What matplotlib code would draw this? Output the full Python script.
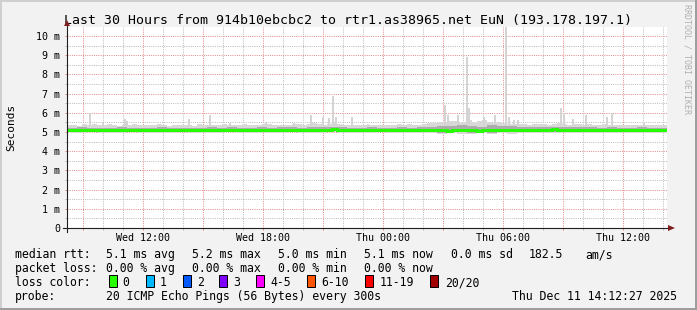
import numpy as np
import pandas as pd
import matplotlib
matplotlib.use('Agg')
import matplotlib.pyplot as plt
import matplotlib.dates as mdates
import matplotlib.ticker as mticker
from matplotlib.patches import Rectangle, Polygon
from matplotlib.lines import Line2D

# ---------------- data ----------------
title = "Last 30 Hours from 914b10ebcbc2 to rtr1.as38965.net EuN (193.178.197.1)"
start_time = "2025-12-10 08:12:27"   # graph start (30 h before the stamp below)
end_stamp = "Thu Dec 11 14:12:27 2025"

# median RTT (ms), one value per 15 minutes
median_ms = [
    5.10, 5.11, 5.10, 5.12, 5.11, 5.10, 5.11, 5.12, 5.10, 5.09, 5.11, 5.12,
    5.11, 5.10, 5.12, 5.11, 5.10, 5.11, 5.12, 5.11, 5.10, 5.09, 5.11, 5.10,
    5.11, 5.12, 5.10, 5.11, 5.13, 5.11, 5.10, 5.12, 5.11, 5.10, 5.11, 5.12,
    5.10, 5.11, 5.12, 5.13, 5.11, 5.10, 5.09, 5.11, 5.12, 5.11, 5.10, 5.12,
    5.13, 5.12, 5.11, 5.13, 5.12, 5.14, 5.12, 5.11, 5.10, 5.12, 5.11, 5.12,
    5.10, 5.11, 5.12, 5.11, 5.12, 5.10, 5.11, 5.10, 5.12, 5.11, 5.10, 5.11,
    5.08, 5.10, 5.12, 5.09, 5.06, 5.10, 5.11, 5.08, 5.12, 5.10, 5.07, 5.11,
    5.09, 5.12, 5.10, 5.11, 5.12, 5.10, 5.11, 5.12, 5.10, 5.11, 5.12, 5.11,
    5.13, 5.14, 5.12, 5.11, 5.12, 5.10, 5.11, 5.09, 5.10, 5.12, 5.10, 5.08,
    5.10, 5.09, 5.10, 5.11, 5.09, 5.10, 5.08, 5.09, 5.10, 5.09, 5.10, 5.09,
]
# upper edge of the light smoke (ms), one value per 15 minutes
smoke_hi_ms = [
    5.35, 5.38, 5.33, 5.40, 5.36, 5.42, 5.34, 5.37, 5.41, 5.35, 5.33, 5.38,
    5.36, 5.40, 5.34, 5.37, 5.35, 5.39, 5.42, 5.36, 5.33, 5.35, 5.38, 5.34,
    5.36, 5.33, 5.40, 5.35, 5.38, 5.34, 5.37, 5.41, 5.36, 5.35, 5.39, 5.42,
    5.38, 5.36, 5.34, 5.40, 5.43, 5.38, 5.35, 5.37, 5.39, 5.44, 5.40, 5.37,
    5.42, 5.45, 5.40, 5.38, 5.44, 5.47, 5.41, 5.39, 5.36, 5.38, 5.35, 5.37,
    5.34, 5.36, 5.38, 5.35, 5.37, 5.36, 5.40, 5.38, 5.42, 5.39, 5.36, 5.40,
    5.48, 5.45, 5.52, 5.50, 5.55, 5.58, 5.46, 5.52, 5.60, 5.48, 5.55, 5.62,
    5.50, 5.45, 5.52, 5.48, 5.44, 5.42, 5.40, 5.43, 5.38, 5.41, 5.44, 5.40,
    5.38, 5.42, 5.45, 5.40, 5.38, 5.44, 5.40, 5.37, 5.42, 5.39, 5.36, 5.40,
    5.38, 5.35, 5.37, 5.39, 5.36, 5.34, 5.37, 5.35, 5.38, 5.36, 5.39, 5.35,
]
# lower edge of the light smoke (ms), one value per 30 minutes
smoke_lo_ms = [
    4.97, 4.96, 4.98, 4.95, 4.97, 4.96, 4.98, 4.97, 4.95, 4.97, 4.96, 4.98,
    4.96, 4.97, 4.95, 4.97, 4.98, 4.96, 4.97, 4.95, 4.96, 4.97, 4.98, 4.96,
    4.97, 4.96, 4.98, 4.97, 4.96, 4.95, 4.97, 4.98, 4.96, 4.97, 4.96, 4.97,
    4.93, 4.90, 4.94, 4.91, 4.92, 4.95, 4.90, 4.93, 4.92, 4.95, 4.96, 4.94,
    4.95, 4.96, 4.94, 4.95, 4.93, 4.94, 4.95, 4.93, 4.94, 4.95, 4.93, 4.94,
]
# denser smoke core (ms), one value per 30 minutes
core_lo_ms = [
    5.04, 5.03, 5.04, 5.02, 5.04, 5.03, 5.04, 5.03, 5.02, 5.04, 5.03, 5.04,
    5.03, 5.04, 5.02, 5.04, 5.03, 5.04, 5.03, 5.02, 5.03, 5.04, 5.03, 5.03,
    5.04, 5.03, 5.04, 5.03, 5.04, 5.02, 5.03, 5.04, 5.03, 5.03, 5.04, 5.03,
    5.00, 4.97, 5.00, 4.98, 4.97, 5.01, 4.97, 5.00, 4.99, 5.01, 5.02, 5.01,
    5.02, 5.03, 5.01, 5.02, 5.00, 5.01, 5.02, 5.00, 5.01, 5.02, 5.00, 5.01,
]
core_hi_ms = [
    5.22, 5.24, 5.21, 5.23, 5.22, 5.25, 5.22, 5.23, 5.21, 5.24, 5.22, 5.23,
    5.23, 5.22, 5.24, 5.22, 5.25, 5.23, 5.22, 5.24, 5.23, 5.25, 5.24, 5.23,
    5.26, 5.25, 5.24, 5.27, 5.23, 5.22, 5.24, 5.23, 5.22, 5.24, 5.23, 5.24,
    5.28, 5.33, 5.30, 5.36, 5.32, 5.28, 5.35, 5.30, 5.31, 5.27, 5.26, 5.27,
    5.26, 5.28, 5.25, 5.24, 5.26, 5.23, 5.24, 5.22, 5.23, 5.24, 5.22, 5.23,
]
# single 5-minute samples with high max ping (time, ms)
spike_times = [
    "2025-12-10 08:30", "2025-12-10 09:18", "2025-12-10 09:57", "2025-12-10 11:03",
    "2025-12-10 11:09", "2025-12-10 14:15", "2025-12-10 15:18", "2025-12-10 16:18",
    "2025-12-10 18:06", "2025-12-10 19:30", "2025-12-10 20:21", "2025-12-10 20:57",
    "2025-12-10 21:15", "2025-12-10 21:27", "2025-12-10 21:36", "2025-12-10 22:24",
    "2025-12-10 23:12", "2025-12-11 03:03", "2025-12-11 03:12", "2025-12-11 03:42",
    "2025-12-11 04:09", "2025-12-11 04:15", "2025-12-11 05:00", "2025-12-11 05:33",
    "2025-12-11 06:06", "2025-12-11 06:15", "2025-12-11 06:30", "2025-12-11 06:42",
    "2025-12-11 08:51", "2025-12-11 09:00", "2025-12-11 09:27", "2025-12-11 10:06",
    "2025-12-11 11:09", "2025-12-11 11:24", "2025-12-11 13:00",
]
spike_ms = [
    5.35, 6.00, 5.45, 5.70,
    5.55, 5.70, 5.90, 5.45,
    5.50, 5.45, 5.90, 5.80,
    5.75, 6.90, 5.80, 5.80,
    5.40, 6.40, 5.90, 5.90,
    8.90, 6.25, 5.80, 5.90,
    10.60, 5.80, 5.60, 5.60,
    6.25, 6.00, 5.70, 5.90,
    5.80, 6.00, 5.50,
]

legend_rtt = ["5.1 ms avg", "5.2 ms max", "5.0 ms min", "5.1 ms now", "0.0 ms sd", "182.5", "am/s"]
legend_loss = ["0.00 % avg", "0.00 % max", "0.00 % min", "0.00 % now"]
loss_labels = ["0", "1", "2", "3", "4-5", "6-10", "11-19", "20/20"]
loss_colors = ["#26ff00", "#00b8ff", "#0059ff", "#7e00ff", "#ff00ff", "#ff5500", "#ff0000", "#a10000"]
probe_text = "20 ICMP Echo Pings (56 Bytes) every 300s"

# ---------------- figure ----------------
W, H = 697, 310
MONO = "DejaVu Sans Mono"
fig = plt.figure(figsize=(W / 100, H / 100), dpi=100)
fig.patch.set_facecolor("#f2f2f2")

def fx(x):
    return x / W

def fy(y):
    return 1 - y / H

# 3D frame
fig.add_artist(Rectangle((0, fy(2)), 1, 2 / H, transform=fig.transFigure, color="#cfcfcf", lw=0))
fig.add_artist(Rectangle((0, 0), 2 / W, 1, transform=fig.transFigure, color="#cfcfcf", lw=0))
fig.add_artist(Rectangle((0, 0), 1, 2 / H, transform=fig.transFigure, color="#9e9e9e", lw=0))
fig.add_artist(Rectangle((fx(695), 0), 2 / W, 1, transform=fig.transFigure, color="#9e9e9e", lw=0))

ax = fig.add_axes([fx(67), fy(228), 600 / W, 201 / H])
ax.set_facecolor("white")
for s in ax.spines.values():
    s.set_visible(False)

t0 = pd.Timestamp(start_time)
x0 = mdates.date2num(t0)
x1 = mdates.date2num(t0 + pd.Timedelta(hours=30))
ax.set_xlim(x0, x1)
ax.set_ylim(0, 10.47)

edges15 = mdates.date2num(t0 + pd.to_timedelta(np.arange(len(median_ms) + 1) * 15, unit="min"))
edges30 = mdates.date2num(t0 + pd.to_timedelta(np.arange(len(core_hi_ms) + 1) * 30, unit="min"))

# light smoke: stairs with per-bin baseline
lo15 = np.repeat(smoke_lo_ms, 2)
ax.stairs(smoke_hi_ms, edges15, baseline=lo15, fill=True, color="#d8d8d8", lw=0, zorder=2)
# spikes
sp_x = mdates.date2num(pd.to_datetime(spike_times))
ax.bar(sp_x, np.array(spike_ms) - 5.3, bottom=5.3, width=5 / 1440, align="edge",
       color="#d4d4d4", lw=0, zorder=2)
# denser core
ax.stairs(core_hi_ms, edges30, baseline=core_lo_ms, fill=True, color="#acacac", lw=0, zorder=3)
# median line
ax.stairs(median_ms, edges15, baseline=None, color="#26ff00", lw=2.16, zorder=4)

# grid
minor_c = "#bcbcbc"
major_c = "#e48c8c"
ax.xaxis.set_major_locator(mdates.HourLocator(byhour=range(0, 24, 3)))
ax.xaxis.set_minor_locator(mdates.HourLocator())
datefmt = mdates.DateFormatter("%a %H:%M")

def xfmt(v, pos):
    d = mdates.num2date(v)
    return datefmt(v) if d.hour % 6 == 0 else ""

ax.xaxis.set_major_formatter(mticker.FuncFormatter(xfmt))
ax.yaxis.set_major_locator(mticker.MultipleLocator(1))
ax.yaxis.set_minor_locator(mticker.MultipleLocator(0.5))
ax.yaxis.set_major_formatter(mticker.FuncFormatter(lambda v, p: "0" if v == 0 else f"{int(round(v))} m"))
ax.grid(which="major", color=major_c, lw=0.72, linestyle=(0, (1, 1.2)), zorder=1)
ax.grid(which="minor", color=minor_c, lw=0.72, linestyle=(0, (1, 1.2)), zorder=1)
ax.set_axisbelow(True)
ax.tick_params(axis="x", which="major", length=1.5, width=0.72, color=major_c, pad=1.8,
               labelsize=7.2, labelfontfamily=MONO)
ax.tick_params(axis="x", which="minor", length=1.5, width=0.72, color=minor_c)
ax.tick_params(axis="y", which="major", length=1.5, width=0.72, color=major_c, pad=3.6,
               labelsize=7.2, labelfontfamily=MONO)
ax.tick_params(axis="y", which="minor", length=1.5, width=0.72, color=minor_c)

# axes lines and arrows
axis_c = "#1f1f1f"
fig.add_artist(Line2D([fx(63), fx(670)], [fy(228), fy(228)], transform=fig.transFigure, color=axis_c, lw=0.8, zorder=5))
fig.add_artist(Line2D([fx(67), fx(67)], [fy(232), fy(25)], transform=fig.transFigure, color=axis_c, lw=0.8, zorder=5))
fig.add_artist(Polygon([(fx(64), fy(26)), (fx(70), fy(26)), (fx(67), fy(20))], closed=True,
                       transform=fig.transFigure, color="#801f1f", lw=0, zorder=6))
fig.add_artist(Polygon([(fx(668), fy(225)), (fx(668), fy(231)), (fx(675), fy(228))], closed=True,
                       transform=fig.transFigure, color="#801f1f", lw=0, zorder=6))

# texts
fig.text(fx(347.5), fy(24), title, ha="center", va="baseline", family=MONO, size=9.52)
fig.text(fx(14), fy(127.5), "Seconds", rotation=90, rotation_mode="anchor", ha="center",
         va="baseline", family=MONO, size=8.0)
fig.text(fx(685), fy(4), "RRDTOOL / TOBI OETIKER", rotation=-90, rotation_mode="anchor",
         ha="left", va="baseline", family=MONO, size=6.0, color="#b0b0b0")

LS = 8.3
rows = [258, 272, 286, 300]
fig.text(fx(15), fy(rows[0]), "median rtt:", va="baseline", family=MONO, size=LS)
for s, x in zip(legend_rtt, [106, 192, 278, 364, 451, 529, 585]):
    fig.text(fx(x), fy(rows[0]), s, va="baseline", family=MONO, size=LS)
fig.text(fx(15), fy(rows[1]), "packet loss:", va="baseline", family=MONO, size=LS)
for s, x in zip(legend_loss, [106, 192, 278, 364]):
    fig.text(fx(x), fy(rows[1]), s, va="baseline", family=MONO, size=LS)
fig.text(fx(15), fy(rows[2]), "loss color:", va="baseline", family=MONO, size=LS)
box_x = [109, 146, 183, 219, 256, 307, 365, 430]
lab_x = [122, 160, 197, 233, 270, 321, 380, 445]
for lab, col, bx, lx in zip(loss_labels, loss_colors, box_x, lab_x):
    fig.add_artist(Rectangle((fx(bx), fy(286.5)), 8 / W, 11.5 / H, transform=fig.transFigure,
                             facecolor=col, edgecolor="black", lw=0.72))
    fig.text(fx(lx), fy(rows[2]), lab, va="baseline", family=MONO, size=LS)
fig.text(fx(15), fy(rows[3]), "probe:", va="baseline", family=MONO, size=LS)
fig.text(fx(106), fy(rows[3]), probe_text, va="baseline", family=MONO, size=LS)
fig.text(fx(512), fy(rows[3]), end_stamp, va="baseline", family=MONO, size=LS)

fig.savefig("out.png", dpi=100, facecolor=fig.get_facecolor())
